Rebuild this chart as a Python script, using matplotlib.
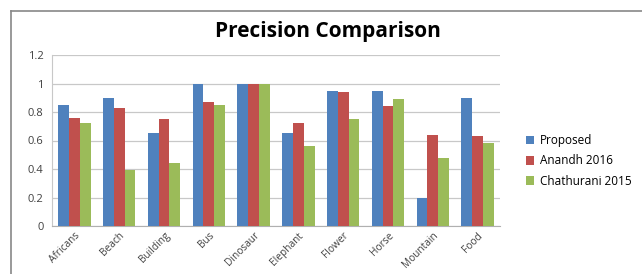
import numpy as np
import matplotlib.pyplot as plt
from matplotlib.lines import Line2D

plt.rcParams['font.family'] = ['Open Sans', 'DejaVu Sans']

categories = ['Africans', 'Beach', 'Building', 'Bus', 'Dinosaur',
              'Elephant', 'Flower', 'Horse', 'Mountain', 'Food']
proposed = [0.85, 0.90, 0.65, 1.00, 1.00, 0.65, 0.95, 0.95, 0.20, 0.90]
anandh = [0.76, 0.83, 0.75, 0.87, 1.00, 0.72, 0.94, 0.84, 0.64, 0.63]
chathurani = [0.72, 0.39, 0.44, 0.85, 1.00, 0.56, 0.75, 0.89, 0.48, 0.58]
yticks = [0, 0.2, 0.4, 0.6, 0.8, 1.0, 1.2]
ylabels = ['0', '0.2', '0.4', '0.6', '0.8', '1', '1.2']

fig = plt.figure(figsize=(6.42, 2.74), dpi=100)
ax = fig.add_axes([52/642, 1-226/274, 448/642, 171/274])

x = np.arange(len(categories))
w = 0.24
ax.bar(x - w, proposed, w, color='#4F81BD', label='Proposed', zorder=3)
ax.bar(x, anandh, w, color='#C0504D', label='Anandh 2016', zorder=3)
ax.bar(x + w, chathurani, w, color='#9BBB59', label='Chathurani 2015', zorder=3)

ax.set_xlim(-0.5, 9.5)
ax.set_ylim(0, 1.2)
ax.set_yticks(yticks)
ax.set_yticklabels(ylabels, fontsize=8, color='#404040')
ax.set_xticks(x)
ax.set_xticklabels(categories, rotation=45, ha='right', rotation_mode='anchor',
                   fontsize=7.3, color='#404040')
ax.tick_params(axis='y', length=0, pad=6)
ax.tick_params(axis='x', length=0, pad=3)
ax.grid(axis='y', color='#c8c8c8', linewidth=0.9, zorder=0)
for s in ['top', 'right']:
    ax.spines[s].set_visible(False)
ax.spines['left'].set_color('#c8c8c8')
ax.spines['bottom'].set_color('#b0b0b0')

fig.text(328/642, 1-31/274, 'Precision Comparison', ha='center', va='center',
         fontsize=15, fontweight='bold', color='black')

fig.legend(loc='center left', bbox_to_anchor=(515/642, 1-161/274), frameon=False,
           fontsize=8.5, handlelength=0.7, handleheight=0.7, labelspacing=0.6,
           handletextpad=0.5)

# outer chart frame
fig.add_artist(Line2D([11/642, 1], [1-11/274, 1-11/274], color='#888888', lw=1.2))
fig.add_artist(Line2D([11/642, 11/642], [0, 1-11/274], color='#888888', lw=1.2))

fig.savefig('out.png', dpi=100)
